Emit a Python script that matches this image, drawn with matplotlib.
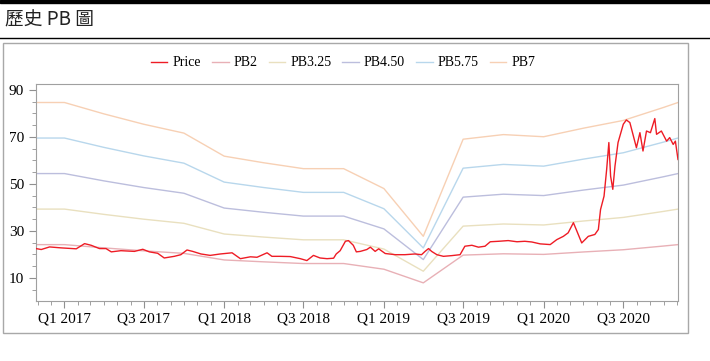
import pandas as pd
import matplotlib.pyplot as plt
import matplotlib.dates as mdates
from matplotlib.ticker import MultipleLocator, FuncFormatter
from matplotlib.patches import Rectangle
from matplotlib.lines import Line2D

# Book value per share at each quarter (PB lines = multiple * book value)
bv_dates = ["2016-10-28", "2017-01-01", "2017-04-01", "2017-07-01", "2017-10-01",
            "2018-01-01", "2018-04-01", "2018-07-01", "2018-10-01", "2019-01-01",
            "2019-04-01", "2019-07-01", "2019-10-01", "2020-01-01", "2020-04-01",
            "2020-07-01", "2020-10-01", "2020-11-03"]
bv_values = [12.09, 12.09, 11.40, 10.77, 10.23, 8.83, 8.43, 8.07, 8.07, 6.86,
             3.96, 9.86, 10.14, 10.01, 10.53, 11.00, 11.79, 12.09]

pb_names = ["PB2", "PB3.25", "PB4.50", "PB5.75", "PB7"]
pb_multiples = [2, 3.25, 4.5, 5.75, 7]
pb_colors = ["#e8b0b6", "#e9e0bf", "#bcbedd", "#b8d7ec", "#f7d0b4"]

price_dates = ["2016-10-28", "2016-11-09", "2016-11-28", "2016-12-24", "2017-01-28",
               "2017-02-16", "2017-03-03", "2017-03-22", "2017-04-06", "2017-04-18",
               "2017-05-10", "2017-06-10", "2017-06-29", "2017-07-14", "2017-08-02",
               "2017-08-17", "2017-09-09", "2017-09-24", "2017-10-08", "2017-10-21",
               "2017-11-09", "2017-11-30", "2017-12-23", "2018-01-19", "2018-02-07",
               "2018-03-02", "2018-03-17", "2018-04-09", "2018-04-20", "2018-05-09",
               "2018-06-01", "2018-06-24", "2018-07-09", "2018-07-24", "2018-08-08",
               "2018-08-24", "2018-09-08", "2018-09-14", "2018-09-23", "2018-10-05",
               "2018-10-12", "2018-10-23", "2018-10-30", "2018-11-08", "2018-11-23",
               "2018-12-01", "2018-12-12", "2018-12-20", "2019-01-04", "2019-01-27",
               "2019-02-18", "2019-03-13", "2019-03-28", "2019-04-05", "2019-04-13",
               "2019-04-20", "2019-05-02", "2019-05-17", "2019-06-05", "2019-06-24",
               "2019-07-05", "2019-07-21", "2019-08-05", "2019-08-20", "2019-09-01",
               "2019-09-20", "2019-10-12", "2019-11-01", "2019-11-19", "2019-12-05",
               "2019-12-24", "2020-01-16", "2020-01-31", "2020-02-15", "2020-02-26",
               "2020-03-09", "2020-03-17", "2020-03-28", "2020-04-12", "2020-04-27",
               "2020-05-05", "2020-05-10", "2020-05-18", "2020-05-24", "2020-05-29",
               "2020-06-02", "2020-06-07", "2020-06-12", "2020-06-19", "2020-07-01",
               "2020-07-08", "2020-07-16", "2020-07-24", "2020-07-31", "2020-08-08",
               "2020-08-15", "2020-08-23", "2020-09-01", "2020-09-11", "2020-09-15",
               "2020-09-26", "2020-10-08", "2020-10-15", "2020-10-23", "2020-10-28",
               "2020-11-03"]
price_values = [22.5, 22.1, 23.2, 22.8, 22.4, 24.6, 23.9, 22.5, 22.5, 21.1,
                21.6, 21.3, 22.2, 21.1, 20.5, 18.5, 19.2, 19.9, 21.9, 21.3,
                20.2, 19.6, 20.2, 20.7, 18.2, 19.0, 18.8, 20.7, 19.2, 19.2,
                19.1, 18.2, 17.4, 19.6, 18.5, 18.2, 18.4, 20.2, 21.6, 25.6,
                25.9, 23.9, 21.1, 21.3, 22.1, 23.1, 21.3, 22.4, 20.4, 19.9,
                19.9, 20.2, 19.9, 21.3, 22.5, 21.3, 19.9, 19.2, 19.5, 19.9,
                23.5, 23.9, 23.1, 23.5, 25.4, 25.6, 25.9, 25.4, 25.6, 25.3,
                24.5, 24.2, 26.3, 27.7, 29.2, 33.5, 29.9, 24.9, 27.7, 28.5,
                30.6, 39.1, 44.8, 56.2, 67.6, 53.3, 47.7, 57.6, 67.6, 75.4,
                77.2, 76.1, 70.4, 65.4, 71.8, 64.0, 72.5, 71.8, 77.8, 71.1,
                72.5, 68.2, 69.7, 66.8, 68.2, 60.4]

bv = pd.DataFrame({"Date": pd.to_datetime(bv_dates), "BV": bv_values})
price = pd.DataFrame({"Date": pd.to_datetime(price_dates), "Price": price_values})

serif = "Liberation Serif"
W, H = 710, 361
fig = plt.figure(figsize=(W / 100, H / 100), dpi=100)

# page decorations: black bar, title, rule, chart box
fig.add_artist(Rectangle((0, 1 - 3 / H), 1, 3 / H, color="black", transform=fig.transFigure))
fig.text(5 / W, 1 - 20 / H, "歷史 PB 圖", fontsize=13.5, va="center", ha="left",
         family=["Noto Sans CJK TC", "DejaVu Sans"], color="#222222")
fig.add_artist(Line2D([0, 1], [1 - 38 / H, 1 - 38 / H], color="black", lw=1, transform=fig.transFigure))
fig.add_artist(Rectangle((3 / W, 1 - 333 / H), 685 / W, 290 / H, fill=False,
                         edgecolor="#a8a8a8", lw=1, transform=fig.transFigure))

ax = fig.add_axes([36 / W, 1 - 301 / H, 642 / W, 217 / H])

ax.plot(price["Date"], price["Price"], color="#ee1c25", lw=1.0, label="Price", zorder=5)
for name, mult, col in zip(pb_names, pb_multiples, pb_colors):
    ax.plot(bv["Date"], bv["BV"] * mult, color=col, lw=1.0, label=name)

ax.set_xlim(pd.Timestamp("2016-10-28"), pd.Timestamp("2020-11-03"))
ax.set_ylim(0.2, 92.5)

ax.yaxis.set_minor_locator(MultipleLocator(5))
ax.set_yticks([10, 30, 50, 70, 90])

ax.xaxis.set_major_locator(mdates.MonthLocator(bymonth=[1, 7]))
ax.xaxis.set_minor_locator(mdates.MonthLocator())


def quarter_label(x, pos):
    d = mdates.num2date(x)
    return "Q%d %d" % ((d.month - 1) // 3 + 1, d.year)


ax.xaxis.set_major_formatter(FuncFormatter(quarter_label))

for s in ax.spines.values():
    s.set_color("#a0a0a0")
ax.tick_params(which="both", colors="#909090", labelcolor="black", labelsize=11)
ax.tick_params(which="major", length=5)
ax.tick_params(which="minor", length=3)
for lab in ax.get_xticklabels() + ax.get_yticklabels():
    lab.set_family(serif)

handles, labels = ax.get_legend_handles_labels()
leg = fig.legend(handles, labels, loc="center", bbox_to_anchor=(343 / W, 1 - 63 / H), ncol=6,
                 frameon=False, handlelength=1.2, handletextpad=0.35, columnspacing=0.8,
                 prop={"family": serif, "size": 10})

fig.savefig("out.png", dpi=100)
